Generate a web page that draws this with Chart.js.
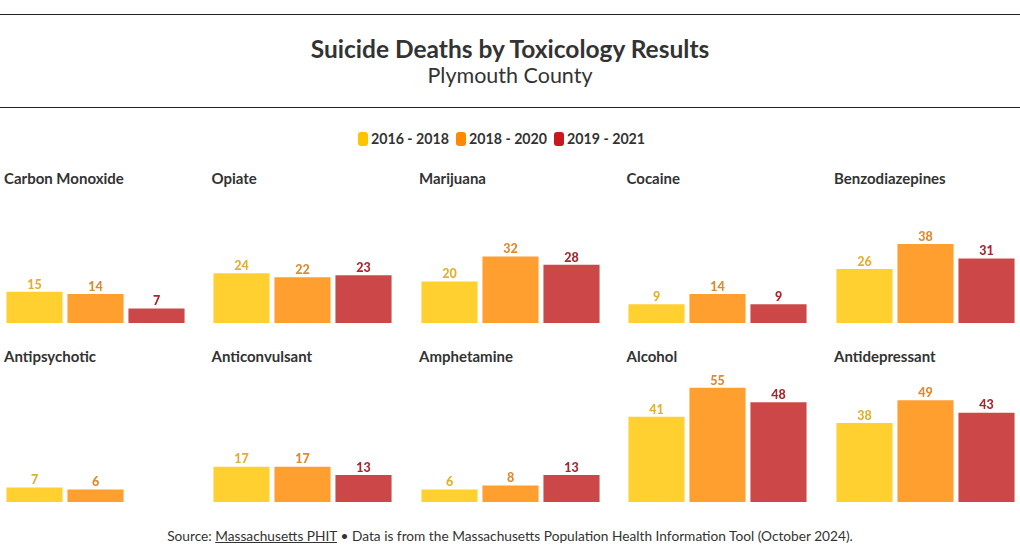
<!DOCTYPE html>
<html>
<head>
<meta charset="utf-8">
<script src="https://cdn.jsdelivr.net/npm/chart.js@4.4.1/dist/chart.umd.min.js"></script>
<style>
  html, body { margin: 0; padding: 0; background: #fff; }
  body { width: 1020px; height: 558px; position: relative; overflow: hidden; font-family: "Lato", sans-serif; color: #333; }
  .rule { position: absolute; left: 0; width: 1020px; height: 1px; background: #222; }
  #title { position: absolute; top: 34px; left: 0; width: 1020px; text-align: center; font-family: "Lato", sans-serif; font-weight: 700; font-size: 24.5px; color: #333; }
  #subtitle { position: absolute; top: 62px; left: 0; width: 1020px; text-align: center; font-family: "Lato", sans-serif; font-size: 21.5px; color: #333; }
  #legend { position: absolute; top: 130px; left: 358px; white-space: nowrap; font-size: 14.2px; font-weight: 700; color: #333; }
  #legend span.item { display: inline-block; margin-right: 7px; }
  #legend span.sw { display: inline-block; width: 10px; height: 14px; border-radius: 3px; vertical-align: -2px; margin-right: 3px; }
  .ptitle { position: absolute; font-size: 15px; font-weight: 700; color: #333; white-space: nowrap; }
  canvas.panel { position: absolute; }
  #source { position: absolute; top: 527px; left: 0; width: 1020px; text-align: center; font-size: 13.7px; color: #333; }
  #source u { text-decoration: underline; }
</style>
</head>
<body>
<div class="rule" style="top:14px"></div>
<div id="title">Suicide Deaths by Toxicology Results</div>
<div id="subtitle">Plymouth County</div>
<div class="rule" style="top:107px"></div>
<div id="legend"></div>
<div id="panels"></div>
<div id="source">Source: <u>Massachusetts PHIT</u> • Data is from the Massachusetts Population Health Information Tool (October 2024).</div>
<script>
const periods = ['2016 - 2018', '2018 - 2020', '2019 - 2021'];
const substances = ['Carbon Monoxide', 'Opiate', 'Marijuana', 'Cocaine', 'Benzodiazepines',
                    'Antipsychotic', 'Anticonvulsant', 'Amphetamine', 'Alcohol', 'Antidepressant'];
const deaths2016_2018 = [15, 24, 20, 9, 26, 7, 17, 6, 41, 38];
const deaths2018_2020 = [14, 22, 32, 14, 38, 6, 17, 8, 55, 49];
const deaths2019_2021 = [7, 23, 28, 9, 31, null, 13, 13, 48, 43];

const barColors = ['#FFD030', '#FF9F30', '#CC4848'];
const legendColors = ['#FFC400', '#FF8A00', '#C8181E'];
const labelColors = ['#E0B030', '#E08A30', '#A8262E'];

// legend
const legend = document.getElementById('legend');
periods.forEach((p, i) => {
  const s = document.createElement('span');
  s.className = 'item';
  s.innerHTML = '<span class="sw" style="background:' + legendColors[i] + '"></span>' + p;
  legend.appendChild(s);
});

const valueLabels = {
  id: 'valueLabels',
  afterDatasetsDraw(chart) {
    const ctx = chart.ctx;
    ctx.save();
    ctx.font = '900 12.5px Lato, sans-serif';
    ctx.textAlign = 'center';
    ctx.textBaseline = 'bottom';
    chart.data.datasets.forEach((ds, di) => {
      const meta = chart.getDatasetMeta(di);
      meta.data.forEach((bar, i) => {
        const v = ds.data[i];
        if (v === null || v === undefined) return;
        ctx.fillStyle = labelColors[i];
        ctx.fillText(String(v), bar.x, bar.y - 1);
      });
    });
    ctx.restore();
  }
};

const panels = document.getElementById('panels');
const colStep = 207.5;
const rowTitleY = [169, 347];
const baseY = [323, 502];
const canvasH = 134;

substances.forEach((name, k) => {
  const col = k % 5, row = Math.floor(k / 5);
  const x0 = col * colStep;
  const t = document.createElement('div');
  t.className = 'ptitle';
  t.style.left = (x0 + 4) + 'px';
  t.style.top = rowTitleY[row] + 'px';
  t.textContent = name;
  panels.appendChild(t);

  const c = document.createElement('canvas');
  c.className = 'panel';
  c.width = 183; c.height = canvasH;
  c.style.width = '183px'; c.style.height = canvasH + 'px';
  c.style.left = (x0 + 3.5) + 'px';
  c.style.top = (baseY[row] - canvasH) + 'px';
  panels.appendChild(c);

  new Chart(c, {
    type: 'bar',
    data: {
      labels: periods,
      datasets: [{
        data: [deaths2016_2018[k], deaths2018_2020[k], deaths2019_2021[k]],
        backgroundColor: barColors,
        borderWidth: 0,
        categoryPercentage: 1.0,
        barPercentage: 0.92
      }]
    },
    options: {
      responsive: false,
      animation: false,
      devicePixelRatio: 1,
      layout: { padding: 0 },
      plugins: { legend: { display: false }, tooltip: { enabled: false } },
      scales: {
        x: { display: false },
        y: { display: false, min: 0, max: 64.5 }
      }
    },
    plugins: [valueLabels]
  });
});
</script>
</body>
</html>
